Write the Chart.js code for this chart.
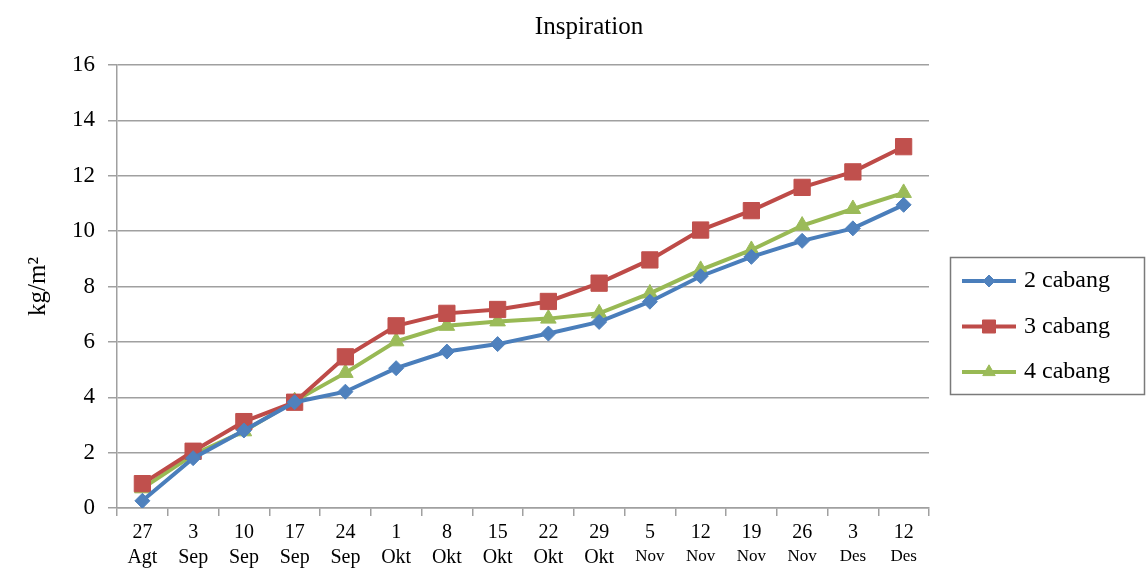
<!DOCTYPE html>
<html>
<head>
<meta charset="utf-8">
<script src="https://cdn.jsdelivr.net/npm/chart.js@4.4.1/dist/chart.umd.min.js"></script>
<style>
  html, body { margin: 0; padding: 0; background: #ffffff; }
  #wrap { width: 1146px; height: 576px; }
</style>
</head>
<body>
<div id="wrap"><canvas id="chart" width="1146" height="576"></canvas></div>
<script>
// Weekly observation dates (day, month)
const days = ['27', '3', '10', '17', '24', '1', '8', '15', '22', '29', '5', '12', '19', '26', '3', '12'];
const months = ['Agt', 'Sep', 'Sep', 'Sep', 'Sep', 'Okt', 'Okt', 'Okt', 'Okt', 'Okt', 'Nov', 'Nov', 'Nov', 'Nov', 'Des', 'Des'];

// Yield per branch count, kg/m²
const cabang2 = [0.26, 1.8, 2.8, 3.82, 4.2, 5.05, 5.65, 5.92, 6.3, 6.72, 7.45, 8.37, 9.07, 9.65, 10.1, 10.95];
const cabang3 = [0.88, 2.05, 3.12, 3.82, 5.46, 6.58, 7.03, 7.17, 7.46, 8.12, 8.96, 10.04, 10.74, 11.58, 12.14, 13.05];
const cabang4 = [0.71, 1.92, 2.77, 3.86, 4.88, 6.02, 6.58, 6.74, 6.84, 7.03, 7.75, 8.6, 9.32, 10.2, 10.8, 11.38];

const seriesNames = ['2 cabang', '3 cabang', '4 cabang'];
const yMin = 0, yMax = 16, yStep = 2;

const SERIF = '"Liberation Serif", "Times New Roman", serif';
const GRID = '#a0a0a0';

// Title and boxed legend on the right
const decorations = {
  id: 'decorations',
  afterDraw(chart) {
    const ctx = chart.ctx;
    ctx.save();
    ctx.fillStyle = '#000';
    ctx.font = '25px ' + SERIF;
    ctx.textAlign = 'center';
    ctx.textBaseline = 'middle';
    ctx.fillText('Inspiration', 589, 27);

    // legend frame
    ctx.strokeStyle = '#7a7a7a';
    ctx.lineWidth = 1.5;
    ctx.strokeRect(950.5, 257.5, 194, 137);

    chart.data.datasets.forEach((ds, i) => {
      const y = 281 + i * 45.5;
      ctx.strokeStyle = ds.borderColor;
      ctx.lineWidth = ds.borderWidth;
      ctx.beginPath();
      ctx.moveTo(962, y);
      ctx.lineTo(1016, y);
      ctx.stroke();
      ctx.fillStyle = ds.pointBackgroundColor;
      ctx.strokeStyle = ds.pointBorderColor;
      ctx.lineWidth = 1;
      Chart.helpers.drawPoint(ctx, { pointStyle: ds.pointStyle, radius: ds.pointRadius * 0.8, borderWidth: 1, rotation: 0 }, 989, y);
      ctx.fillStyle = '#000';
      ctx.font = '24px ' + SERIF;
      ctx.textAlign = 'left';
      ctx.textBaseline = 'middle';
      ctx.fillText(ds.label, 1024, y);
    });
    ctx.restore();
  }
};

function series(label, data, line, fill, style, radius) {
  return {
    label, data,
    borderColor: line, borderWidth: 4,
    pointStyle: style, pointRadius: radius, pointHoverRadius: radius,
    pointBackgroundColor: fill, pointBorderColor: fill, pointBorderWidth: 1,
    tension: 0, fill: false
  };
}

new Chart(document.getElementById('chart'), {
  type: 'line',
  data: {
    labels: days,
    datasets: [
      series(seriesNames[0], cabang2, '#4a7ebb', '#4f81bd', 'rectRot', 7.5),
      series(seriesNames[1], cabang3, '#be4b48', '#c0504d', 'rect', 11.5),
      series(seriesNames[2], cabang4, '#98b954', '#9bbb59', 'triangle', 9)
    ]
  },
  options: {
    responsive: false,
    animation: false,
    devicePixelRatio: 1,
    layout: { padding: { top: 65, right: 217, left: 0, bottom: 0 } },
    plugins: { legend: { display: false }, title: { display: false }, tooltip: { enabled: false } },
    scales: {
      x: {
        type: 'category',
        labels: days,
        offset: true,
        position: 'bottom',
        grid: { offset: true, drawOnChartArea: false, drawTicks: true, tickLength: 8, color: GRID, lineWidth: 1.5 },
        border: { color: GRID, width: 1.5 },
        ticks: { color: '#000', font: { family: SERIF, size: 20 }, padding: 5, maxRotation: 0, autoSkip: false },
        afterFit(s) { s.height = 38; }
      },
      x2: {
        type: 'category',
        labels: months,
        offset: true,
        position: 'bottom',
        grid: { display: false, drawTicks: false },
        border: { display: false },
        ticks: {
          color: '#000',
          font: (c) => ({ family: SERIF, size: c.index >= 10 ? 17 : 20 }),
          padding: 0, maxRotation: 0, autoSkip: false
        },
        afterFit(s) { s.height = 30; }
      },
      y: {
        min: yMin, max: yMax,
        ticks: { stepSize: yStep, color: '#000', font: { family: SERIF, size: 23 }, padding: 13 },
        grid: { color: GRID, lineWidth: 1.5, tickLength: 9 },
        border: { color: GRID, width: 1.5 },
        title: { display: true, text: 'kg/m²', color: '#000', font: { family: SERIF, size: 25 }, padding: { top: 23, bottom: 0 } },
        afterFit(s) { s.width = 117; }
      }
    }
  },
  plugins: [decorations]
});
</script>
</body>
</html>
